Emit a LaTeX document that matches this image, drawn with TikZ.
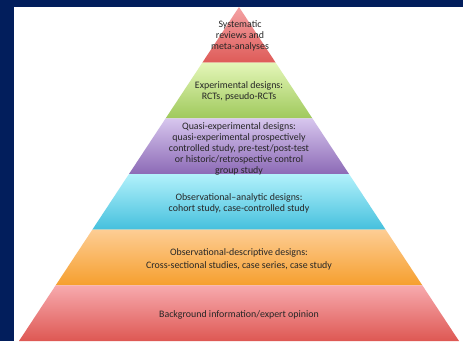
\documentclass[tikz,border=0pt]{standalone}
\usepackage{fontspec}
\setmainfont{Carlito}
\definecolor{navy}{RGB}{2,30,92}
\definecolor{txt}{RGB}{38,38,38}
\definecolor{redA}{HTML}{F4A2A4}\definecolor{redB}{HTML}{DE5B58}
\definecolor{grnA}{HTML}{E4F6B8}\definecolor{grnB}{HTML}{9FC95C}
\definecolor{purA}{HTML}{D7C6EE}\definecolor{purB}{HTML}{8C6AB6}
\definecolor{cyaA}{HTML}{B2F1FB}\definecolor{cyaB}{HTML}{45C0DD}
\definecolor{oraA}{HTML}{FDCD94}\definecolor{oraB}{HTML}{F69F2E}
\definecolor{botA}{HTML}{F7AAAE}\definecolor{botB}{HTML}{DE5853}
% one horizontal slice of the pyramid: y-bottom, y-top, top colour, bottom colour
\newcommand\pyrband[4]{%
  \pgfmathsetmacro\hwb{(334-#1)*0.65868}%
  \pgfmathsetmacro\hwt{(334-#2)*0.65868}%
  \shade[top color=#3,bottom color=#4]
    ({239-\hwb},#1) -- ({239+\hwb},#1) -- ({239+\hwt},#2) -- ({239-\hwt},#2) -- cycle;}
\begin{document}
\begin{tikzpicture}[x=1pt,y=1pt,
  lbl/.style={text=txt,align=center,font=\fontsize{9.9}{11}\selectfont,inner sep=0pt}]
\useasboundingbox (0,0) rectangle (463,341);
\fill[white] (0,0) rectangle (463,341);
% frame
\fill[navy] (0,334) rectangle (463,341);
\fill[navy] (0,0) rectangle (14,341);
% pyramid slices
\pyrband{278.33}{334}{redA}{redB}
\pyrband{222.67}{278.33}{grnA}{grnB}
\pyrband{167}{222.67}{purA}{purB}
\pyrband{111.33}{167}{cyaA}{cyaB}
\pyrband{55.67}{111.33}{oraA}{oraB}
\pyrband{0}{55.67}{botA}{botB}
% labels
\node[lbl] (sr) at (240,305) {Systematic\\reviews and\\meta-analyses};
\node[lbl] (ex) at (239,250) {Experimental designs:\\RCTs, pseudo-RCTs};
\node[lbl] (qe) at (239,192) {Quasi-experimental designs:\\quasi-experimental prospectively\\controlled study, pre-test/post-test\\or historic/retrospective control\\group study};
\node[lbl] (oa) at (239,137.5) {Observational–analytic designs:\\cohort study, case-controlled study};
\node[lbl] (od) at (239,81.5) {Observational-descriptive designs:\\[2pt]Cross-sectional studies, case series, case study};
\node[lbl] (bg) at (239,26) {Background information/expert opinion};
\end{tikzpicture}
\end{document}
